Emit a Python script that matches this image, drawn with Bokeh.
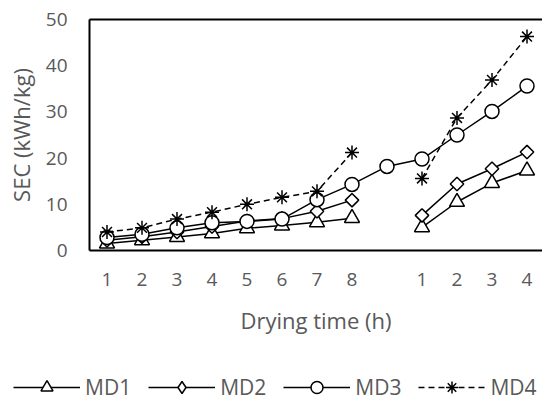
import math
from bokeh.plotting import figure
from bokeh.models import Range1d, FixedTicker, LinearAxis, Legend, LegendItem, ColumnDataSource
from bokeh.embed import file_html
from bokeh.resources import INLINE

NaN = float("nan")

# ---- data ----
x_labels = ["1", "2", "3", "4", "5", "6", "7", "8", "", "1", "2", "3", "4"]
md1 = [1.5, 2.2, 2.9, 3.7, 4.8, 5.4, 6.1, 7.0, NaN, 5.0, 10.5, 14.6, 17.3]
md2 = [2.2, 3.0, 4.0, 5.2, 6.4, 6.9, 8.5, 10.9, NaN, 7.6, 14.4, 17.7, 21.3]
md3 = [2.8, 3.5, 4.9, 6.0, 6.3, 6.8, 11.0, 14.3, 18.2, 19.8, 25.0, 30.1, 35.6]
md4 = [4.0, 4.9, 6.8, 8.3, 10.0, 11.5, 12.8, 21.2, NaN, 15.6, 28.7, 36.9, 46.3]
y_ticks = [0, 10, 20, 30, 40, 50]
series_names = ["MD1", "MD2", "MD3", "MD4"]

xs = list(range(1, len(x_labels) + 1))
GRAY = "#595959"
FONT = "Open Sans"

# layout geometry (pixels): plot box from x=89 to the right edge, y=19 (50) to y=250 (0)
W, H = 542, 403
BOX_L, BOX_T, BOX_B = 89, 19, 250
CAT_W = 35.0
Y_MIN, Y_MAX = y_ticks[0], y_ticks[-1]
ppu = (BOX_B - BOX_T) / (Y_MAX - Y_MIN)
x_lo, x_hi = 0.5, len(x_labels) + 0.5
x_start = x_lo - BOX_L / CAT_W
x_end = x_lo + (W - BOX_L) / CAT_W
y_start = Y_MIN - (H - BOX_B) / ppu
y_end = Y_MAX + BOX_T / ppu

p = figure(width=W, height=H, output_backend="svg", toolbar_location=None,
           x_range=Range1d(x_start, x_end), y_range=Range1d(y_start, y_end),
           min_border_left=0, min_border_right=0, min_border_top=0, min_border_bottom=0)
p.outline_line_color = None
p.grid.grid_line_color = None

tick_pos = [x for x, l in zip(xs, x_labels) if l]
p.xaxis.ticker = FixedTicker(ticks=tick_pos)
p.xaxis.major_label_overrides = {x: l for x, l in zip(xs, x_labels) if l}
p.yaxis.ticker = FixedTicker(ticks=y_ticks)
p.xaxis.fixed_location = Y_MIN
p.yaxis.fixed_location = x_lo
p.xaxis.bounds = (x_lo, x_hi)
p.yaxis.bounds = (Y_MIN, Y_MAX)
for ax in (p.xaxis[0], p.yaxis[0]):
    ax.axis_line_color = "black"
    ax.axis_line_width = 2
    ax.major_tick_line_color = None
    ax.minor_tick_line_color = None
    ax.major_tick_out = 0
    ax.major_tick_in = 0
    ax.minor_tick_out = 0
    ax.minor_tick_in = 0
    ax.major_label_text_font = FONT
    ax.major_label_text_font_size = "19px"
    ax.major_label_text_color = GRAY
    ax.axis_label_text_font = FONT
    ax.axis_label_text_font_size = "22px"
    ax.axis_label_text_font_style = "normal"
    ax.axis_label_text_color = GRAY
p.xaxis.axis_label = "Drying time (h)"
p.yaxis.axis_label = "SEC (kWh/kg)"
p.xaxis.major_label_standoff = 22
p.xaxis.axis_label_standoff = 16
p.yaxis.major_label_standoff = 22
p.yaxis.axis_label_standoff = 7

top = LinearAxis(ticker=FixedTicker(ticks=[]), axis_line_width=2, axis_line_color="black",
                 major_tick_line_color=None, minor_tick_line_color=None,
                 major_tick_out=0, major_tick_in=0, minor_tick_out=0, minor_tick_in=0,
                 major_label_text_font_size="0px", bounds=(x_lo, x_hi), fixed_location=Y_MAX)
p.add_layout(top, "above")

src = ColumnDataSource(dict(x=xs, md1=md1, md2=md2, md3=md3, md4=md4))

specs = [
    ("md1", "triangle", 15, 0.0, "solid", "triangle"),
    ("md2", "square", 9.5, math.pi / 4, "solid", "diamond"),
    ("md3", "circle", 14, 0.0, "solid", "circle"),
    ("md4", "asterisk", 14, 0.0, "6 4", "asterisk"),
]

items = []
for (col, marker, size, ang, dash, lmarker), name in zip(specs, series_names):
    ln = p.line("x", col, source=src, line_color="black", line_width=1.5, line_dash=dash)
    sc = p.scatter("x", col, source=src, marker=marker, size=size, angle=ang,
                   line_color="black", line_width=1.5, fill_color="white")
    if lmarker != marker:
        lsrc = ColumnDataSource(dict(x=[NaN], y=[NaN]))
        sc = p.scatter("x", "y", source=lsrc, marker=lmarker, size=size,
                       line_color="black", line_width=1.5, fill_color="white")
    items.append(LegendItem(label=name, renderers=[ln, sc]))

legend = Legend(items=items, orientation="horizontal", location=(13, 1),
                glyph_width=67, glyph_height=30, label_standoff=5, spacing=17,
                padding=0, margin=0, border_line_color=None, background_fill_alpha=0,
                label_text_font=FONT, label_text_font_size="21px", label_text_color=GRAY,
                label_height=30)
p.add_layout(legend, "center")

open("out.html", "w").write(file_html(p, INLINE))
